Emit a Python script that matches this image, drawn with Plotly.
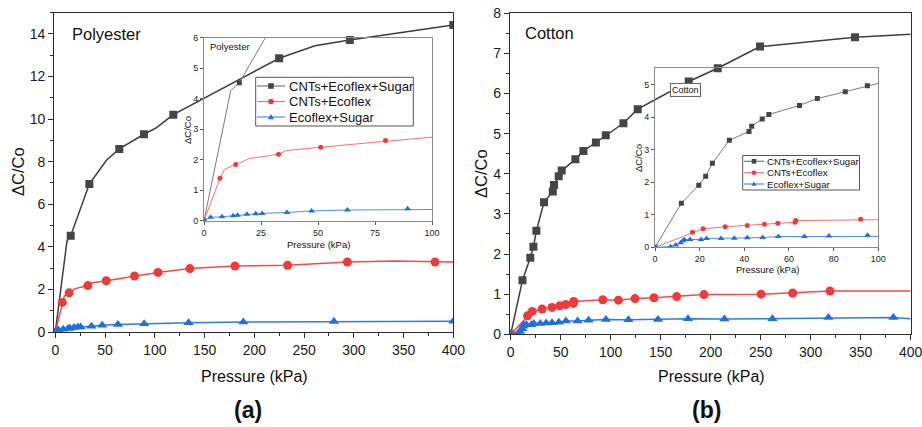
import plotly.graph_objects as go

# ---------------- data ----------------
series_names = ["CNTs+Ecoflex+Sugar", "CNTs+Ecoflex", "Ecoflex+Sugar"]

# Polyester
pe_cs_x = [0, 11.7, 15.5, 34.2, 51.6, 64.3, 89.1, 101.8, 118.6, 225, 261, 296, 400]
pe_cs_y = [0, 4.26, 4.52, 6.95, 8.08, 8.60, 9.29, 9.6, 10.21, 12.86, 13.45, 13.72, 14.42]
pe_cs_mark = [1, 0, 1, 1, 0, 1, 1, 0, 1, 1, 0, 1, 1]

pe_c_x = [0, 7.0, 9.1, 13.9, 20.1, 32.7, 36.2, 51.2, 79.6, 103.2, 135.3, 180.6, 233.5, 293.5, 340, 381.6, 400]
pe_c_y = [0, 1.39, 1.69, 1.84, 2.04, 2.18, 2.30, 2.41, 2.63, 2.80, 2.98, 3.10, 3.13, 3.29, 3.33, 3.29, 3.29]
pe_c_mark = [1, 1, 0, 1, 0, 1, 0, 1, 1, 1, 1, 1, 1, 1, 0, 1, 0]

pe_es_x = [0, 2.9, 7.9, 12.8, 14.7, 18.8, 22.7, 25.5, 36.4, 47.2, 62.9, 89.3, 134, 189, 280, 400]
pe_es_y = [0, 0.11, 0.13, 0.16, 0.18, 0.21, 0.23, 0.24, 0.27, 0.32, 0.35, 0.39, 0.44, 0.47, 0.49, 0.51]
pe_es_mark = [1] * 16

# Cotton
co_cs_x = [0, 11.8, 19.6, 22.7, 25.7, 33.3, 42.1, 43.3, 48, 51, 64.7, 72.7, 85.2, 95.1, 112.7, 127, 178, 207, 249.3, 344.3, 400]
co_cs_y = [0, 1.35, 1.91, 2.18, 2.58, 3.29, 3.56, 3.72, 3.94, 4.08, 4.36, 4.57, 4.78, 4.96, 5.26, 5.61, 6.30, 6.63, 7.17, 7.40, 7.48]
co_cs_mark = [1] * 20 + [0]

co_c_x = [0, 16.8, 21.5, 31.4, 41.3, 49, 55, 62.7, 63, 92.1, 107.7, 124.3, 143.3, 166, 193.3, 250.3, 282, 319.3, 400]
co_c_y = [0, 0.46, 0.57, 0.63, 0.67, 0.71, 0.74, 0.77, 0.82, 0.86, 0.85, 0.89, 0.91, 0.94, 0.99, 1.00, 1.03, 1.08, 1.08]
co_c_mark = [1] * 18 + [0]

co_es_x = [0, 6, 7, 9.3, 11.5, 12.5, 13.2, 15.7, 20.6, 23.1, 29.6, 35.5, 41.3, 48.2, 55.2, 66.9, 77.9, 95.2,
           117.7, 147.3, 177.3, 213.7, 261.7, 317.7, 382.7, 400]
co_es_y = [0, 0, 0.02, 0.07, 0.14, 0.20, 0.23, 0.24, 0.24, 0.27, 0.27, 0.28, 0.29, 0.30, 0.33, 0.33, 0.35, 0.37,
           0.36, 0.37, 0.39, 0.38, 0.39, 0.42, 0.42, 0.39]
co_es_mark = [0 if i in (1, 25) else 1 for i in range(26)]

# ---------------- helpers ----------------
W, H = 922, 427
FONT = "Liberation Sans, Arial, sans-serif"


def px(x):
    return x / W


def py(y):
    return 1 - y / H


fig = go.Figure()

main_style = {
    0: dict(color="#3d3d3d", mcolor="#454545", symbol="square", size=8, lw=1.5),
    1: dict(color="#f24a4a", mcolor="#ee3a3a", symbol="circle", size=9, lw=1.5),
    2: dict(color="#2f7be6", mcolor="#1f6fe0", symbol="triangle-up", size=9, lw=1.5),
}
inset_style = {
    0: dict(color="#7a7a7a", mcolor="#444444", symbol="square", size=5, lw=1),
    1: dict(color="#f57272", mcolor="#ee3a3a", symbol="circle", size=5, lw=1),
    2: dict(color="#4a8ff0", mcolor="#1f6fe0", symbol="triangle-up", size=6, lw=1),
}


def add_series(xs, ys, mark, k, xa, ya, style):
    st = style[k]
    fig.add_trace(go.Scatter(x=xs, y=ys, mode="lines", xaxis=xa, yaxis=ya,
                             line=dict(color=st["color"], width=st["lw"]),
                             showlegend=False, hoverinfo="skip", cliponaxis=False))
    mx = [x for x, m in zip(xs, mark) if m]
    my = [y for y, m in zip(ys, mark) if m]
    fig.add_trace(go.Scatter(x=mx, y=my, mode="markers", xaxis=xa, yaxis=ya, name=series_names[k],
                             marker=dict(symbol=st["symbol"], size=st["size"], color=st["mcolor"],
                                         line=dict(width=0)),
                             showlegend=False, cliponaxis=True))


pe = [(pe_cs_x, pe_cs_y, pe_cs_mark), (pe_c_x, pe_c_y, pe_c_mark), (pe_es_x, pe_es_y, pe_es_mark)]
co = [(co_cs_x, co_cs_y, co_cs_mark), (co_c_x, co_c_y, co_c_mark), (co_es_x, co_es_y, co_es_mark)]

for k, (xs, ys, m) in enumerate(pe):
    add_series(xs, ys, m, k, "x", "y", main_style)
for k, (xs, ys, m) in enumerate(pe):
    add_series(xs, ys, m, k, "x2", "y2", inset_style)
for k, (xs, ys, m) in enumerate(co):
    add_series(xs, ys, m, k, "x3", "y3", main_style)
for k, (xs, ys, m) in enumerate(co):
    add_series(xs, ys, m, k, "x4", "y4", inset_style)


def main_axis(domain, rng, dtick, mdtick, anchor):
    return dict(domain=domain, range=rng, dtick=dtick, tick0=0, anchor=anchor, automargin=False,
                showgrid=False, zeroline=False, showline=True, linecolor="#2b2b2b", linewidth=1.3,
                mirror=True, ticks="outside", ticklen=5, tickwidth=1.2, tickcolor="#2b2b2b",
                minor=dict(ticks="outside", ticklen=3, dtick=mdtick, tickcolor="#2b2b2b", tickwidth=1),
                tickfont=dict(family=FONT, size=14, color="#1a1a1a"), fixedrange=True,
                ticklabeloverflow="allow")


def inset_axis(domain, rng, dtick, anchor):
    return dict(domain=domain, range=rng, dtick=dtick, tick0=0, anchor=anchor, automargin=False,
                showgrid=False, zeroline=False, showline=True, linecolor="#8a8a8a", linewidth=1,
                mirror=True, ticks="outside", ticklen=3, tickwidth=1, tickcolor="#555555",
                tickfont=dict(family=FONT, size=9, color="#222222"), fixedrange=True)


fig.update_layout(
    width=W, height=H, margin=dict(l=0, r=0, t=0, b=0, autoexpand=False),
    paper_bgcolor="white", plot_bgcolor="rgba(0,0,0,0)", showlegend=False,
    font=dict(family=FONT, color="#1a1a1a"),
    xaxis=main_axis([px(54.3), px(453.3)], [-1, 400], 50, 25, "y"),
    yaxis=main_axis([py(332), py(12.7)], [0, 15], 2, 1, "x"),
    xaxis2=inset_axis([px(204), px(432)], [0, 100], 25, "y2"),
    yaxis2=inset_axis([py(220.7), py(37.7)], [0, 6], 1, "x2"),
    xaxis3=main_axis([px(510), px(910.7)], [-0.7, 400], 50, 25, "y3"),
    yaxis3=main_axis([py(334.3), py(13.3)], [0, 8], 1, 0.5, "x3"),
    xaxis4=inset_axis([px(655), px(878.3)], [0, 100], 20, "y4"),
    yaxis4=inset_axis([py(247.3), py(68.3)], [0, 5.5], 1, "x4"),
)

ann = []
shapes = []


def text(x, y, s, size, angle=0, xanchor="center", bold=False, **kw):
    ann.append(dict(x=px(x), y=py(y), xref="paper", yref="paper", text=("<b>%s</b>" % s) if bold else s,
                    showarrow=False, textangle=angle, xanchor=xanchor, yanchor="middle",
                    font=dict(family=FONT, size=size, color="#111"), **kw))


# main panel titles
text(18, 172, "ΔC/Co", 16.5, angle=-90)
text(254, 376, "Pressure (kPa)", 16)
text(248, 410, "(a)", 23, bold=True)
text(70, 34, "Polyester", 16.5, xanchor="left")

text(481, 173, "ΔC/Co", 16.5, angle=-90)
text(711, 376, "Pressure (kPa)", 16)
text(706, 410, "(b)", 23, bold=True)
text(523, 33, "Cotton", 16.5, xanchor="left")

# inset titles
text(318, 244, "Pressure (kPa)", 9.5)
text(187, 130, "ΔC/Co", 9.5, angle=-90)
text(208, 46, "Polyester", 9.5, xanchor="left")

text(767, 269, "Pressure (kPa)", 9.5)
text(638, 158, "ΔC/Co", 9.5, angle=-90)
text(669.5, 90, "Cotton", 9, xanchor="left", bordercolor="#666666", borderwidth=1, borderpad=1,
     bgcolor="white")


# ---- inset legends (box + line sample + marker sample + label) ----
def marker_shape(cx, cy, sym, r, color):
    if sym == "square":
        shapes.append(dict(type="rect", xref="paper", yref="paper", x0=px(cx - r), x1=px(cx + r),
                           y0=py(cy + r), y1=py(cy - r), fillcolor=color, line=dict(width=0)))
    elif sym == "circle":
        shapes.append(dict(type="circle", xref="paper", yref="paper", x0=px(cx - r), x1=px(cx + r),
                           y0=py(cy + r), y1=py(cy - r), fillcolor=color, line=dict(width=0)))
    else:
        path = "M %f %f L %f %f L %f %f Z" % (px(cx - r * 1.1), py(cy + r * 0.8), px(cx + r * 1.1),
                                              py(cy + r * 0.8), px(cx), py(cy - r * 1.1))
        shapes.append(dict(type="path", xref="paper", yref="paper", path=path, fillcolor=color,
                           line=dict(width=0)))


def legend_box(x0, y0, x1, y1, rows, lx0, lx1, tx, fsize, r, style):
    shapes.append(dict(type="rect", xref="paper", yref="paper", x0=px(x0), x1=px(x1), y0=py(y1), y1=py(y0),
                       fillcolor="white", line=dict(color="#555555", width=1)))
    for k, ry in enumerate(rows):
        st = style[k]
        shapes.append(dict(type="line", xref="paper", yref="paper", x0=px(lx0), x1=px(lx1), y0=py(ry),
                           y1=py(ry), line=dict(color=st["color"], width=1.2)))
        marker_shape((lx0 + lx1) / 2, ry, st["symbol"], r, st["mcolor"])
        text(tx, ry, series_names[k], fsize, xanchor="left")


legend_box(255.7, 77.3, 413.3, 126, [86, 101.5, 117], 257, 285, 287, 13, 2.8, inset_style)
legend_box(742.7, 155.5, 859.5, 190, [161.3, 172.7, 184], 744, 764, 765, 9.6, 2.3, inset_style)

fig.update_layout(annotations=ann, shapes=shapes)

fig.write_html("out.html", config={"displayModeBar": False},
               post_script="document.body.style.margin='0px';document.body.style.overflow='hidden';")
